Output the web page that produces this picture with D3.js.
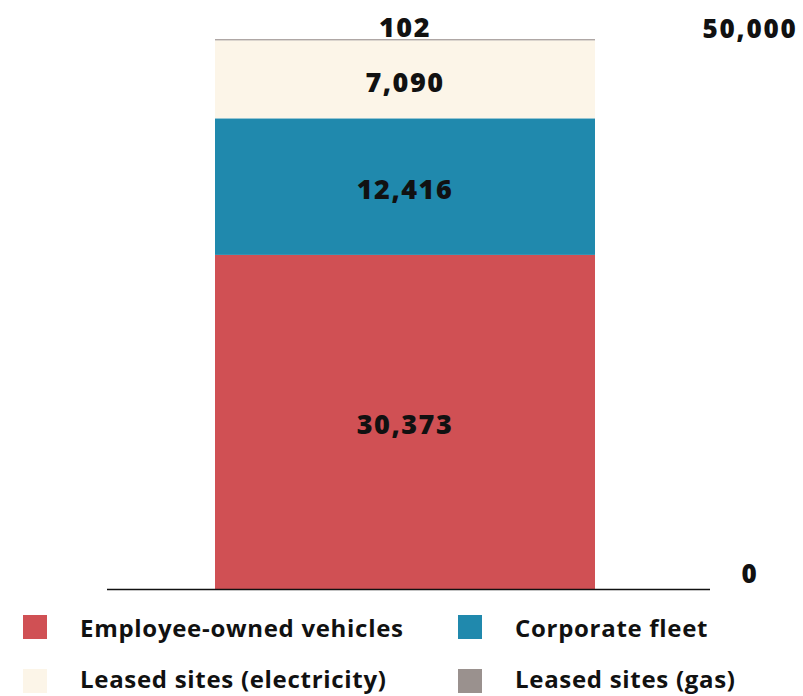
<!DOCTYPE html>
<html><head><meta charset="utf-8">
<script src="https://cdn.jsdelivr.net/npm/d3@7"></script>
<style>body{margin:0;background:#fff}svg{display:block}text{font-family:"Open Sans",Lato,sans-serif;font-weight:800;fill:#111}</style>
</head><body>
<script>
const categories = ["Employee-owned vehicles","Corporate fleet","Leased sites (electricity)","Leased sites (gas)"];
const values = [30373, 12416, 7090, 102];
const colors = ["#d05054","#2089ad","#fcf5e8","#9a918e"];
const tickValues = [0, 50000];

const W=803,H=696;
const svg=d3.select("body").append("svg").attr("width",W).attr("height",H);
const y=d3.scaleLinear().domain([0,50000]).range([589,39]);
const x=d3.scaleBand().domain(["total"]).range([215,595]).padding(0);

let cum=0;
const stack=values.map((v,i)=>{const s={y0:cum,y1:cum+v,v,i};cum+=v;return s;});
svg.selectAll("rect.bar").data(stack).join("rect").attr("class","bar")
 .attr("x",x("total")).attr("width",x.bandwidth())
 .attr("y",d=>y(d.y1)).attr("height",d=>y(d.y0)-y(d.y1))
 .attr("fill",d=>colors[d.i]);

const fmt=d3.format(",");
svg.selectAll("text.lab").data(stack).join("text").attr("class","lab")
 .attr("x",x("total")+x.bandwidth()/2)
 .attr("y",d=>d.v<1000? y(d.y1)-13 : (y(d.y0)+y(d.y1))/2+2)
 .attr("text-anchor","middle").attr("dominant-baseline","central")
 .style("font-size","27px").style("letter-spacing","1.5px").text(d=>fmt(d.v));

// baseline
svg.append("line").attr("x1",107).attr("x2",710).attr("y1",589.5).attr("y2",589.5).attr("stroke","#111").attr("stroke-width",1.5);

// right axis labels
svg.selectAll("text.tick").data(tickValues).join("text").attr("class","tick")
 .attr("x",750).attr("y",d=>d===0?y(d)-16:y(d)-11)
 .attr("text-anchor","middle").attr("dominant-baseline","central")
 .style("font-size","26px").style("letter-spacing","1.8px").text(d=>fmt(d));

// legend
const lg=svg.selectAll("g.lg").data(categories).join("g").attr("class","lg")
 .attr("transform",(d,i)=>`translate(${i%2===0?23:458},${i<2?627:681})`);
lg.append("rect").attr("x",0).attr("y",-12).attr("width",24).attr("height",24).attr("fill",(d,i)=>colors[i]);
lg.append("text").attr("x",57).attr("y",(d,i)=>i<2?0:-3).attr("dominant-baseline","central")
 .style("font-size","24px").style("font-weight","700").style("letter-spacing","0.7px").text(d=>d);
</script>
</body></html>
